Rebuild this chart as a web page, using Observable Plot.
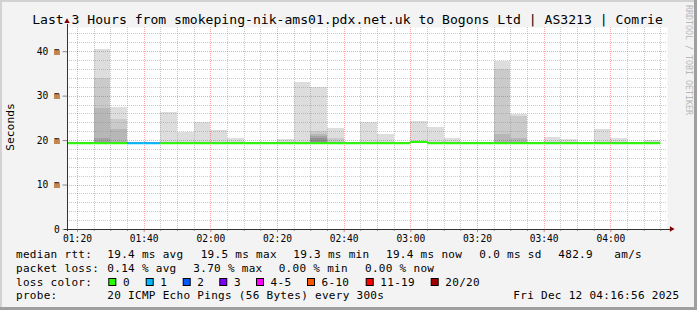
<!DOCTYPE html>
<html><head><meta charset="utf-8">
<script src="https://cdn.jsdelivr.net/npm/d3@7"></script>
<script src="https://cdn.jsdelivr.net/npm/@observablehq/plot@0.6"></script>
<style>html,body{margin:0;padding:0;background:#f3f3f3;}</style>
</head><body><div id="chart"></div>
<script>
// ---- data ----
const day = "2025-12-12T";
const intervalStarts = ["01:15","01:20","01:25","01:30","01:35","01:40","01:45","01:50","01:55","02:00","02:05","02:10",
  "02:15","02:20","02:25","02:30","02:35","02:40","02:45","02:50","02:55","03:00","03:05","03:10",
  "03:15","03:20","03:25","03:30","03:35","03:40","03:45","03:50","03:55","04:00","04:05","04:10"];
const medianRtt = [19.4,19.4,19.4,19.4,19.4,19.4,19.4,19.4,19.4,19.4,19.4,19.4,
  19.4,19.4,19.4,19.4,19.4,19.4,19.4,19.4,19.4,19.7,19.4,19.4,
  19.4,19.4,19.4,19.4,19.4,19.4,19.4,19.4,19.4,19.4,19.4,19.4];
const lossCount = [0,0,0,0,1,1,0,0,0,0,0,0, 0,0,0,0,0,0,0,0,0,0,0,0, 0,0,0,0,0,0,0,0,0,0,0,0];
// smoke: upper ping values per interval (20 pings sorted: ping20 = max)
const ping20 = [19.6,19.6,40.4,27.5,19.6,19.6,26.4,21.9,24.1,22.3,20.5,19.6,
  19.6,20.3,33.1,32.0,22.8,19.6,24.0,21.3,19.6,24.4,23.0,20.4,
  19.6,19.6,37.8,25.9,19.6,20.8,20.2,19.6,22.4,20.5,19.6,20.1];
const ping19 = [19.6,19.6,33.9,24.8,19.6,19.6,19.6,19.6,19.6,19.6,19.6,19.6,
  19.6,19.6,19.6,22.0,20.4,19.6,19.6,19.6,19.6,19.6,19.6,19.6,
  19.6,19.6,36.0,25.5,19.6,19.6,19.6,19.6,19.6,19.6,19.6,19.6];
const ping18 = [19.6,19.6,27.3,22.4,19.6,19.6,19.6,19.6,19.6,19.6,19.6,19.6,
  19.6,19.6,19.6,21.4,19.6,19.6,19.6,19.6,19.6,19.6,19.6,19.6,
  19.6,19.6,21.3,20.4,19.6,19.6,19.6,19.6,19.6,19.6,19.6,19.6];
const ping17 = [19.6,19.6,20.4,19.6,19.6,19.6,19.6,19.6,19.6,19.6,19.6,19.6,
  19.6,19.6,19.6,20.9,19.6,19.6,19.6,19.6,19.6,19.6,19.6,19.6,
  19.6,19.6,19.6,19.6,19.6,19.6,19.6,19.6,19.6,19.6,19.6,19.6];
const ping16 = [19.6,19.6,19.6,19.6,19.6,19.6,19.6,19.6,19.6,19.6,19.6,19.6,
  19.6,19.6,19.6,20.4,19.6,19.6,19.6,19.6,19.6,19.6,19.6,19.6,
  19.6,19.6,19.6,19.6,19.6,19.6,19.6,19.6,19.6,19.6,19.6,19.6];
const pingLow = 19.25;
const smokeShades = ["#dddddd","#cacaca","#b7b7b7","#a4a4a4","#919191"];
const lossLabels = ["0","1","2","3","4-5","6-10","11-19","20/20"];
const lossColors = ["#26ff00","#00b8ff","#0059ff","#7e00ff","#ff00ff","#ff5500","#ff0000","#a10000"];
const lossUpper = [0,1,2,3,5,10,19,20];
const yTicks = [0,10,20,30,40];
const yTickLabels = ["0","10 m","20 m","30 m","40 m"];
const xTicks = ["01:20","01:40","02:00","02:20","02:40","03:00","03:20","03:40","04:00"];
const titleText = "Last 3 Hours from smokeping-nik-ams01.pdx.net.uk to Bogons Ltd | AS3213 | Comrie";
const yLabel = "Seconds";
const watermark = "RRDTOOL / TOBI OETIKER";
const legendRtt = [["median rtt:",16],["19.4 ms avg",107.3],["19.5 ms max",200.7],["19.3 ms min",293.3],["19.4 ms now",386],["0.0 ms sd",479.3],["482.9",558.3],["am/s",614.3]];
const legendLoss = [["packet loss:",16],["0.14 % avg",107.3],["3.70 % max",193.3],["0.00 % min",278.7],["0.00 % now",365]];
const legendColorX = [108.3,145.7,182.7,219.3,256,307,365.7,430.7];
const legendProbe = [["probe:",16],["20 ICMP Echo Pings (56 Bytes) every 300s",107.3],["Fri Dec 12 04:16:56 2025",513.3]];

// ---- build ----
const T = s => new Date(day + s + ":00Z");
const stepMs = 300 * 1000;
const x0 = T("01:17"), x1 = T("04:17");
const yMax = 45.44;
const rows = intervalStarts.map((s, i) => ({
  a: T(s), b: new Date(+T(s) + stepMs), med: medianRtt[i], loss: lossCount[i],
  tops: [ping20[i], ping19[i], ping18[i], ping17[i], ping16[i]]
}));
const bands = [];
smokeShades.forEach((c, k) => rows.forEach(r => bands.push({a: r.a, b: r.b, lo: pingLow, hi: r.tops[k], fill: c})));
const lossColor = n => lossColors[lossUpper.findIndex(u => n <= u)];
const xMajor = xTicks.map(T);
const xMinor = d3.utcMinute.every(5).range(T("01:20"), x1).filter(d => d.getUTCMinutes() % 20 !== 0);
const yMinor = d3.range(2, 46, 2).filter(v => v % 10 !== 0);
const yMajorGrid = yTicks.filter(v => v > 0);
const sec = s => s * 1000;

const plot = Plot.plot({
  width: 697, height: 310,
  marginLeft: 67, marginRight: 30, marginTop: 27, marginBottom: 81,
  x: {type: "utc", domain: [x0, x1], axis: null},
  y: {domain: [0, yMax], axis: null},
  color: {type: "identity"},
  style: {background: "transparent", fontFamily: "DejaVu Sans Mono", overflow: "visible"},
  marks: [
    Plot.frame({fill: "white", stroke: "none"}),
    Plot.rectY(bands, {x1: "a", x2: "b", y1: "lo", y2: "hi", fill: "fill", clip: true, shapeRendering: "crispEdges"}),
    Plot.ruleY(yMinor, {stroke: "#8c8c8c", strokeOpacity: 0.45, strokeDasharray: "1,1", shapeRendering: "crispEdges"}),
    Plot.ruleX(xMinor, {stroke: "#8c8c8c", strokeOpacity: 0.45, strokeDasharray: "1,1", shapeRendering: "crispEdges"}),
    Plot.ruleY(yMajorGrid, {stroke: "#ff0000", strokeOpacity: 0.35, strokeDasharray: "1,1", shapeRendering: "crispEdges"}),
    Plot.ruleX(xMajor, {stroke: "#ff0000", strokeOpacity: 0.35, strokeDasharray: "1,1", shapeRendering: "crispEdges"}),
    Plot.ruleY(rows, {y: "med", x1: "a", x2: "b", stroke: r => lossColor(r.loss), strokeWidth: 2, clip: true}),
    // axis ticks
    Plot.ruleY(yTicks, {x1: new Date(+x0 - sec(80)), x2: x0, stroke: "#888"}),
    Plot.ruleX(xMinor, {y1: 0, y2: -0.45, stroke: "#999"}),
    Plot.ruleX(xMajor, {y1: 0, y2: -0.7, stroke: "#e08080"}),
    // axis lines
    Plot.ruleX([x0], {y1: -0.45, y2: yMax + 0.7, stroke: "#333"}),
    Plot.ruleY([0], {x1: new Date(+x0 - sec(54)), x2: new Date(+x1 + sec(54)), stroke: "#333"}),
    // tick labels
    Plot.text(yTicks, {x: x0, y: d => d, text: (d, i) => yTickLabels[i], textAnchor: "end", dx: -7.7, lineAnchor: "middle", fontSize: 9.6, fill: "black"}),
    Plot.text(xMajor, {x: d => d, y: 0, text: (d, i) => xTicks[i], dy: 12.3, lineAnchor: "bottom", fontSize: 9.6, fill: "black"})
  ]
});

const svg = d3.select(plot);
// background + 3D border
svg.insert("rect", ":first-child").attr("width", 697).attr("height", 310).attr("fill", "#f3f3f3");
const bg = svg.insert("g", ":nth-child(2)");
bg.append("rect").attr("x", 0).attr("y", 0).attr("width", 697).attr("height", 2).attr("fill", "#d2d2d2");
bg.append("rect").attr("x", 0).attr("y", 0).attr("width", 2).attr("height", 310).attr("fill", "#d2d2d2");
bg.append("rect").attr("x", 694).attr("y", 0).attr("width", 3).attr("height", 310).attr("fill", "#9f9f9f");
bg.append("rect").attr("x", 0).attr("y", 307).attr("width", 697).attr("height", 3).attr("fill", "#9f9f9f");

const txt = svg.append("g").attr("font-family", "DejaVu Sans Mono").attr("fill", "black").attr("text-anchor", "start");
txt.append("text").attr("x", 347.5).attr("y", 24).attr("text-anchor", "middle").attr("font-size", 13.1).text(titleText);
txt.append("text").attr("transform", "translate(10.5,127) rotate(-90)").attr("text-anchor", "middle")
  .attr("dominant-baseline", "central").attr("font-size", 11.3).text(yLabel);
txt.append("text").attr("transform", "translate(688.5,5) rotate(90)").attr("dominant-baseline", "central")
  .attr("font-size", 8.3).attr("fill", "#b8b8b8").text(watermark);
const leg = txt.append("g").attr("font-size", 11).attr("letter-spacing", "0.3px");
const line = (items, y) => items.forEach(([s, x]) => leg.append("text").attr("x", x).attr("y", y).text(s));
line(legendRtt, 257.6);
line(legendLoss, 271.6);
leg.append("text").attr("x", 16).attr("y", 285.6).text("loss color:");
lossLabels.forEach((l, i) => {
  leg.append("rect").attr("x", legendColorX[i] + 0.5).attr("y", 278.5).attr("width", 7).attr("height", 7)
    .attr("fill", lossColors[i]).attr("stroke", "black").attr("stroke-width", 1);
  leg.append("text").attr("x", legendColorX[i] + 14.6).attr("y", 285.6).text(l);
});
line(legendProbe, 299);
// axis arrows (drawn over the title, as in the reference)
const xs = d3.scaleUtc().domain([x0, x1]).range([67, 667]);
const ys = d3.scaleLinear().domain([0, yMax]).range([229, 27]);
const arrows = svg.append("g").attr("fill", "#7f0000");
arrows.append("path").attr("d", d3.symbol(d3.symbolTriangle, 13)())
  .attr("transform", `translate(${xs(x0)},${ys(yMax + 1.25)})`);
arrows.append("path").attr("d", d3.symbol(d3.symbolTriangle, 13)())
  .attr("transform", `translate(${xs(new Date(+x1 + sec(80)))},${ys(0)}) rotate(90)`);
document.getElementById("chart").appendChild(plot);
</script></body></html>
